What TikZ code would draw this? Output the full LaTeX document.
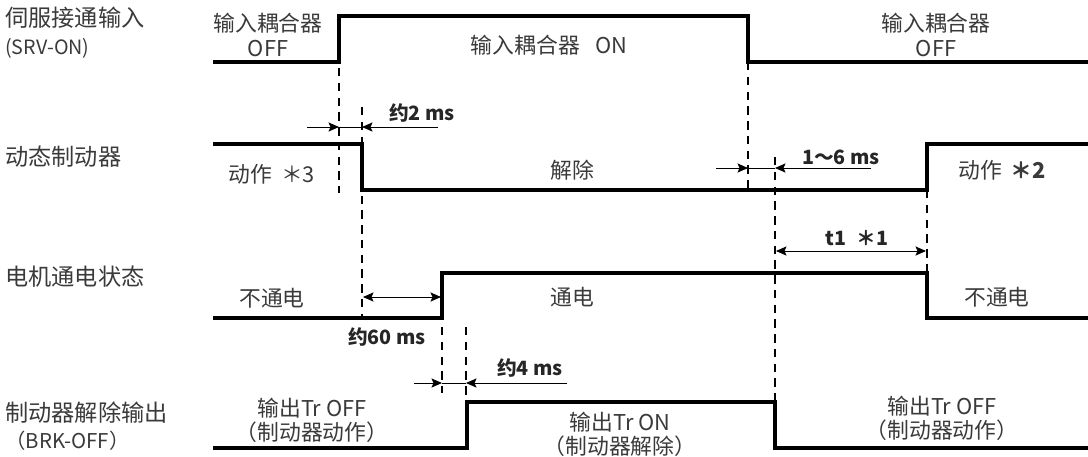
\documentclass[tikz,border=0pt]{standalone}
\usepackage{fontspec}
\setmainfont{Noto Sans CJK SC}
\usetikzlibrary{arrows.meta}
\definecolor{txtgray}{HTML}{3A3A3A}

\begin{document}
\begin{tikzpicture}[x=0.025cm, y=-0.025cm,
    wave/.style={line width=2.3pt, line join=miter},
    guide/.style={line width=0.8pt, dash pattern=on 6pt off 4.5pt},
    dim/.style={line width=0.7pt, -{Stealth[length=7.5pt,width=6.5pt,inset=1.5pt]}},
    dimboth/.style={line width=0.7pt, {Stealth[length=7.5pt,width=6.5pt,inset=1.5pt]}-{Stealth[length=7.5pt,width=6.5pt,inset=1.5pt]}},
    lbl/.style={anchor=west, inner sep=0pt, text=txtgray, font=\fontsize{16.5}{18}\selectfont},
    st/.style={inner sep=0pt, text=txtgray, font=\fontsize{15.5}{17}\selectfont},
    ms/.style={inner sep=0pt, text=black!85, font=\bfseries\fontsize{14}{16}\selectfont}]
  \useasboundingbox (0,0) rectangle (1088,456);

  % signal names
  \node[lbl] (srv)  at (5,18)  {伺服接通输入};
  \node[lbl, font=\fontsize{14}{16}\selectfont] (srvid) at (5,48) {(SRV-ON)};
  \node[lbl] (dyn)  at (5,157) {动态制动器};
  \node[lbl] (mot)  at (5,277) {电机通电状态};
  \node[lbl] (brk)  at (5,413) {制动器解除输出};
  \node[lbl, font=\fontsize{14.5}{16}\selectfont] (brkid) at (5,441) {（BRK-OFF）};

  % waveforms
  \draw[wave] (213,62) -- (339,62) -- (339,16) -- (748,16) -- (748,62) -- (1088,62);
  \draw[wave] (213,144) -- (362,144) -- (362,190) -- (927,190) -- (927,144) -- (1088,144);
  \draw[wave] (213,318) -- (442,318) -- (442,273) -- (927,273) -- (927,318) -- (1088,318);
  \draw[wave] (213,448) -- (467,448) -- (467,402) -- (775,402) -- (775,448) -- (1088,448);

  % timing guides
  \draw[guide] (339,68) -- (339,193);
  \draw[guide] (362,107) -- (362,318);
  \draw[guide] (748,62) -- (748,190);
  \draw[guide] (775,157) -- (775,402);
  \draw[guide] (927,190) -- (927,273);
  \draw[guide] (442,327) -- (442,393);
  \draw[guide] (466,327) -- (466,402);

  % intervals
  \draw[dim] (307,127) -- (339,127);
  \draw[line width=0.7pt] (339,127) -- (362,127);
  \draw[dim] (438,127) -- (362,127);
  \node[ms] (t2) at (422,113) {约2 ms};

  \draw[dim] (716,168) -- (748,168);
  \draw[line width=0.7pt] (748,168) -- (775,168);
  \draw[dim] (871,168) -- (775,168);
  \node[ms] (t16) at (841,157) {1〜6 ms};

  \draw[dimboth] (363,297) -- (441,297);
  \node[ms] (t60) at (387,337) {约60 ms};

  \draw[dim] (414,383) -- (442,383);
  \draw[line width=0.7pt] (442,383) -- (466,383);
  \draw[dim] (567,383) -- (466,383);
  \node[ms] (t4) at (530,368) {约4 ms};

  \draw[dimboth] (776,251) -- (926,251);
  \node[ms] (t1) at (857,238) {t1\hspace{0.5em}＊1};

  % states
  \node[st] (srvoffa)  at (268,23)  {输入耦合器};
  \node[st] (srvoffb)  at (268,49)  {OFF};
  \node[st] (srvon)    at (549,45)  {输入耦合器\hspace{0.7em}ON};
  \node[st] (srvoffc)  at (936,23)  {输入耦合器};
  \node[st] (srvoffd)  at (936,49)  {OFF};

  \node[st] (dynact)   at (272,174) {动作\hspace{0.4em}＊3};
  \node[st] (dynrel)   at (572,170) {解除};
  \node[st] (dynact2)  at (1002,170) {动作\hspace{0.4em}\textbf{＊2}};

  \node[st] (motoff)   at (272,298) {不通电};
  \node[st] (moton)    at (572,297) {通电};
  \node[st] (motoff2)  at (997,297) {不通电};

  \node[st] (troffa)   at (312,408) {输出Tr OFF};
  \node[st] (brkacta)  at (312,432) {（制动器动作）};
  \node[st] (tron)     at (620,422) {输出Tr ON};
  \node[st] (brkrel)   at (620,446) {（制动器解除）};
  \node[st] (troffb)   at (942,406) {输出Tr OFF};
  \node[st] (brkactb)  at (942,430) {（制动器动作）};
\end{tikzpicture}
\end{document}
